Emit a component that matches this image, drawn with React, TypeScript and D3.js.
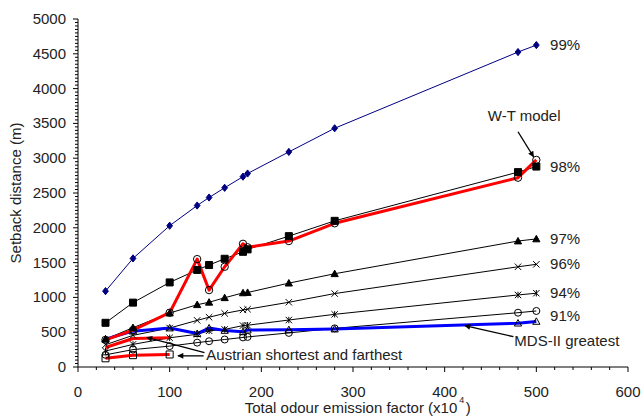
import React, { useEffect, useRef } from 'react';
import * as d3 from 'd3';

// emission factor (x10^4) shared by the percentile series
const emission = [30, 60, 100, 130, 143, 160, 180, 185, 230, 280, 480, 500];
const p99 = [1090, 1560, 2030, 2320, 2435, 2575, 2735, 2780, 3090, 3430, 4525, 4625];
const p98 = [635, 925, 1215, 1395, 1465, 1555, 1655, 1690, 1880, 2100, 2800, 2880];
const wtModel = [390, 530, 780, 1550, 1105, 1440, 1770, 1720, 1810, 2065, 2720, 2975];
const p97 = [400, 565, 775, 895, 930, 995, 1065, 1070, 1205, 1340, 1810, 1840];
const p96 = [320, 455, 560, 670, 715, 770, 820, 830, 930, 1055, 1440, 1475];
const p94 = [230, 325, 420, 470, 520, 540, 595, 600, 675, 757, 1035, 1060];
const p91 = [175, 250, 300, 350, 370, 395, 425, 432, 490, 555, 780, 805];
const mdsGreatest = [400, 515, 560, 480, 560, 525, 505, 530, 535, 545, 630, 655];
const austrianX = [30, 60, 100];
const austrianShortest = [125, 170, 180];
const austrianFarthest = [280, 410, 420];

const xTicks = [0, 100, 200, 300, 400, 500, 600];
const yTicks = [0, 500, 1000, 1500, 2000, 2500, 3000, 3500, 4000, 4500, 5000];

const W = 642;
const H = 419;
const FONT = '"Liberation Sans", Arial, sans-serif';
const FS = 15;

type Shape = 'diamond' | 'square' | 'circle' | 'triangle' | 'x' | 'star' | 'none';

const markerPath = (shape: Shape, s: number) => {
  switch (shape) {
    case 'diamond': return `M0,${-s}L${s * 0.8},0L0,${s}L${-s * 0.8},0Z`;
    case 'square': return `M${-s},${-s}H${s}V${s}H${-s}Z`;
    case 'triangle': return `M0,${-s}L${s},${s * 0.8}L${-s},${s * 0.8}Z`;
    case 'x': return `M${-s},${-s}L${s},${s}M${-s},${s}L${s},${-s}`;
    case 'star': return `M${-s},${-s}L${s},${s}M${-s},${s}L${s},${-s}M0,${-s}L0,${s}`;
    default: return '';
  }
};

const App = () => {
  const svgRef = useRef<SVGSVGElement>(null);

  useEffect(() => {
    const svg = d3.select(svgRef.current);
    svg.selectAll('*').remove();

    const x = d3.scaleLinear().domain([0, 600]).range([78, 628]);
    const y = d3.scaleLinear().domain([0, 5000]).range([367, 19]);

    const defs = svg.append('defs');
    defs.append('marker')
      .attr('id', 'arrow')
      .attr('viewBox', '0 0 10 10')
      .attr('refX', 9).attr('refY', 5)
      .attr('markerWidth', 9).attr('markerHeight', 6)
      .attr('markerUnits', 'userSpaceOnUse')
      .attr('orient', 'auto')
      .append('path').attr('d', 'M0,0L10,5L0,10Z').attr('fill', '#000');

    // axes
    const axisG = svg.append('g');
    axisG.append('line').attr('x1', x(0)).attr('x2', x(600)).attr('y1', y(0)).attr('y2', y(0)).attr('stroke', '#000');
    axisG.append('line').attr('x1', x(0)).attr('x2', x(0)).attr('y1', y(0)).attr('y2', y(5000)).attr('stroke', '#000');

    d3.range(0, 601, 20).forEach(v => {
      const major = v % 100 === 0;
      axisG.append('line').attr('x1', x(v)).attr('x2', x(v)).attr('y1', y(0)).attr('y2', y(0) + (major ? 5 : 3)).attr('stroke', '#000');
    });
    d3.range(0, 5001, 50).forEach(v => {
      const major = v % 500 === 0;
      axisG.append('line').attr('x1', x(0) - (major ? 5 : 3)).attr('x2', x(0)).attr('y1', y(v)).attr('y2', y(v)).attr('stroke', '#000');
    });

    axisG.selectAll('.xt').data(xTicks).enter().append('text')
      .attr('x', d => x(d)).attr('y', y(0) + 30)
      .attr('text-anchor', 'middle').attr('font-size', FS).attr('font-family', FONT).attr('fill', '#222')
      .text(d => d);
    axisG.selectAll('.yt').data(yTicks).enter().append('text')
      .attr('x', x(0) - 12).attr('y', d => y(d) + 5)
      .attr('text-anchor', 'end').attr('font-size', FS).attr('font-family', FONT).attr('fill', '#222')
      .text(d => d);

    // x title with a superscript exponent, laid out as separate texts
    const titleMain = axisG.append('text')
      .attr('y', 413).attr('font-size', FS).attr('font-family', FONT).attr('fill', '#222')
      .text('Total odour emission factor (x10');
    const mainLen = (titleMain.node() as SVGTextElement).getComputedTextLength();
    const totalLen = mainLen + 12;
    const startX = 357 - totalLen / 2;
    titleMain.attr('x', startX);
    axisG.append('text')
      .attr('x', startX + mainLen + 2).attr('y', 403)
      .attr('font-size', 9).attr('font-family', FONT).attr('fill', '#222')
      .text('4');
    axisG.append('text')
      .attr('x', startX + mainLen + 8.5).attr('y', 413)
      .attr('font-size', FS).attr('font-family', FONT).attr('fill', '#222')
      .text(')');

    axisG.append('text')
      .attr('transform', `translate(21,${(y(0) + y(5000)) / 2}) rotate(-90)`)
      .attr('text-anchor', 'middle').attr('font-size', FS).attr('font-family', FONT).attr('fill', '#222')
      .text('Setback distance (m)');

    const series = [
      { xs: emission, ys: p99, color: '#000080', width: 1, shape: 'diamond' as Shape, fill: '#000080', stroke: '#000080', size: 3.6 },
      { xs: emission, ys: p98, color: '#000', width: 1, shape: 'square' as Shape, fill: '#000', stroke: '#000', size: 3.5 },
      { xs: emission, ys: p97, color: '#000', width: 1, shape: 'triangle' as Shape, fill: '#000', stroke: '#000', size: 3.6 },
      { xs: emission, ys: p96, color: '#000', width: 1, shape: 'x' as Shape, fill: 'none', stroke: '#000', size: 3.2 },
      { xs: emission, ys: p94, color: '#000', width: 1, shape: 'star' as Shape, fill: 'none', stroke: '#000', size: 3.2 },
      { xs: emission, ys: p91, color: '#000', width: 1, shape: 'circle' as Shape, fill: 'none', stroke: '#000', size: 3.5 },
      { xs: emission, ys: mdsGreatest, color: '#0000ff', width: 3, shape: 'triangle' as Shape, fill: 'none', stroke: '#000', size: 3.6 },
      { xs: austrianX, ys: austrianFarthest, color: '#ff0000', width: 3, shape: 'none' as Shape, fill: 'none', stroke: '#000', size: 3 },
      { xs: austrianX, ys: austrianShortest, color: '#ff0000', width: 3, shape: 'square' as Shape, fill: 'none', stroke: '#000', size: 3.5 },
      { xs: emission, ys: wtModel, color: '#ff0000', width: 3, shape: 'circle' as Shape, fill: 'none', stroke: '#000', size: 3.7 },
    ];

    const line = d3.line<[number, number]>().x(d => x(d[0])).y(d => y(d[1]));

    // thin lines first, thick coloured lines on top
    const ordered = [...series.filter(s => s.width === 1), ...series.filter(s => s.width > 1)];
    ordered.forEach(s => {
      svg.append('path')
        .datum(s.xs.map((v, i) => [v, s.ys[i]] as [number, number]))
        .attr('d', line)
        .attr('fill', 'none')
        .attr('stroke', s.color)
        .attr('stroke-width', s.width)
        .attr('stroke-linejoin', 'round');
    });

    ordered.forEach(s => {
      if (s.shape === 'none') return;
      const pts = s.xs.map((v, i) => [v, s.ys[i]] as [number, number]);
      if (s.shape === 'circle') {
        svg.append('g').selectAll('circle').data(pts).enter().append('circle')
          .attr('cx', d => x(d[0])).attr('cy', d => y(d[1])).attr('r', s.size)
          .attr('fill', s.fill).attr('stroke', s.stroke).attr('stroke-width', 1);
      } else {
        svg.append('g').selectAll('path').data(pts).enter().append('path')
          .attr('transform', d => `translate(${x(d[0])},${y(d[1])})`)
          .attr('d', markerPath(s.shape, s.size))
          .attr('fill', s.fill).attr('stroke', s.stroke).attr('stroke-width', 1);
      }
    });

    // percentile labels next to the last points
    const endLabels = [
      { text: '99%', v: p99[p99.length - 1] },
      { text: '98%', v: p98[p98.length - 1] },
      { text: '97%', v: p97[p97.length - 1] },
      { text: '96%', v: p96[p96.length - 1] },
      { text: '94%', v: p94[p94.length - 1] },
      { text: '91%', v: 730 },
    ];
    svg.append('g').selectAll('text').data(endLabels).enter().append('text')
      .attr('x', x(515)).attr('y', d => y(d.v) + 5)
      .attr('font-size', FS).attr('font-family', FONT).attr('fill', '#222')
      .text(d => d.text);

    // annotations
    const notes = [
      { text: 'W-T model', tx: 447, ty: 3540, arrows: [[480, 3380, 497, 3020]] },
      { text: 'MDS-II greatest', tx: 476, ty: 300, arrows: [[475, 435, 422, 595]] },
      { text: 'Austrian shortest and farthest', tx: 140, ty: 100, arrows: [[138, 205, 75, 425], [137, 160, 109, 160]] },
    ];
    notes.forEach(n => {
      svg.append('text')
        .attr('x', x(n.tx)).attr('y', y(n.ty))
        .attr('font-size', FS).attr('font-family', FONT).attr('fill', '#222')
        .text(n.text);
      n.arrows.forEach(a => {
        svg.append('line')
          .attr('x1', x(a[0])).attr('y1', y(a[1]))
          .attr('x2', x(a[2])).attr('y2', y(a[3]))
          .attr('stroke', '#000').attr('stroke-width', 1.3)
          .attr('marker-end', 'url(#arrow)');
      });
    });
  }, []);

  return (
    <svg ref={svgRef} width={W} height={H}
      style={{ position: 'absolute', left: 0, top: 0, background: '#fff' }} />
  );
};

export default App;
